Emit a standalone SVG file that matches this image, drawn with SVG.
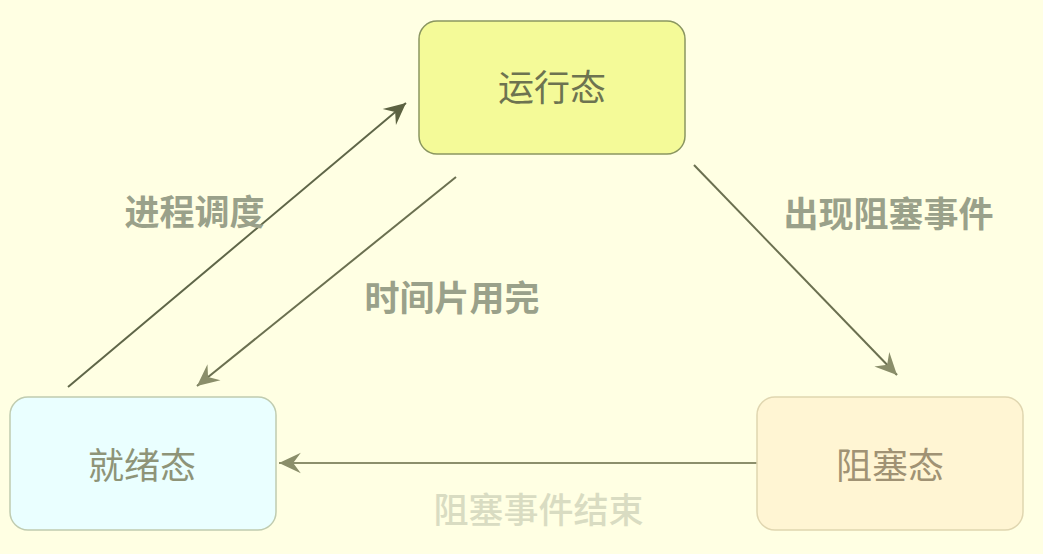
<svg xmlns="http://www.w3.org/2000/svg" width="1043" height="554" viewBox="0 0 1043 554">
<style>
.lbl{font-family:"Noto Sans CJK SC","Noto Sans",sans-serif;font-weight:700;font-size:35px;fill:#9aa18a;text-anchor:middle}
.nt{font-family:"Noto Sans CJK SC","Noto Sans",sans-serif;font-weight:400;font-size:36px;text-anchor:middle}
.edge{fill:none;stroke-width:2}
</style>
<defs>
<marker id="ahDark" markerUnits="userSpaceOnUse" markerWidth="24" markerHeight="24" viewBox="-21 -11 22 22" refX="0" refY="0" orient="auto">
<path d="M0,0 L-20,-9.5 L-13,0 L-20,9.5 Z" fill="#5c6242"/>
</marker>
<marker id="ahLight" markerUnits="userSpaceOnUse" markerWidth="24" markerHeight="24" viewBox="-21 -11 22 22" refX="0" refY="0" orient="auto">
<path d="M0,0 L-20,-9.5 L-13,0 L-20,9.5 Z" fill="#8a8e6a"/>
</marker>
</defs>
<rect x="0" y="0" width="1043" height="554" fill="#ffffe3"/>
<g id="connectors">
<line class="edge" x1="68" y1="387" x2="406" y2="103" stroke="#5f6648" marker-end="url(#ahDark)"/>
<line class="edge" x1="456" y1="177" x2="197" y2="386" stroke="#6b7050" marker-end="url(#ahLight)"/>
<line class="edge" x1="694" y1="165" x2="897" y2="375" stroke="#6b7050" marker-end="url(#ahLight)"/>
<line class="edge" x1="757" y1="463" x2="279" y2="463" stroke="#8c8f6c" marker-end="url(#ahLight)"/>
</g>
<g id="node-running">
<rect x="419" y="21" width="266" height="133" rx="18" fill="#f4fa98" stroke="#8a9660" stroke-width="1.5"/>
<text class="nt" x="552" y="101" fill="#6d7350">运行态</text>
</g>
<g id="node-ready">
<rect x="10" y="397" width="266" height="133" rx="18" fill="#eaffff" stroke="#c0ccb0" stroke-width="1.5"/>
<text class="nt" x="142" y="479" fill="#8e9478">就绪态</text>
</g>
<g id="node-blocked">
<rect x="757" y="397" width="266" height="133" rx="18" fill="#fff5d3" stroke="#e0d6b0" stroke-width="1.5"/>
<text class="nt" x="890" y="479" fill="#a09274">阻塞态</text>
</g>
<g id="labels">
<text class="lbl" x="194.5" y="225">进程调度</text>
<text class="lbl" x="452" y="311">时间片用完</text>
<text class="lbl" x="888.5" y="227">出现阻塞事件</text>
<text class="lbl" x="538.5" y="523" style="fill:#d9dcc2;font-weight:500">阻塞事件结束</text>
</g>
</svg>
